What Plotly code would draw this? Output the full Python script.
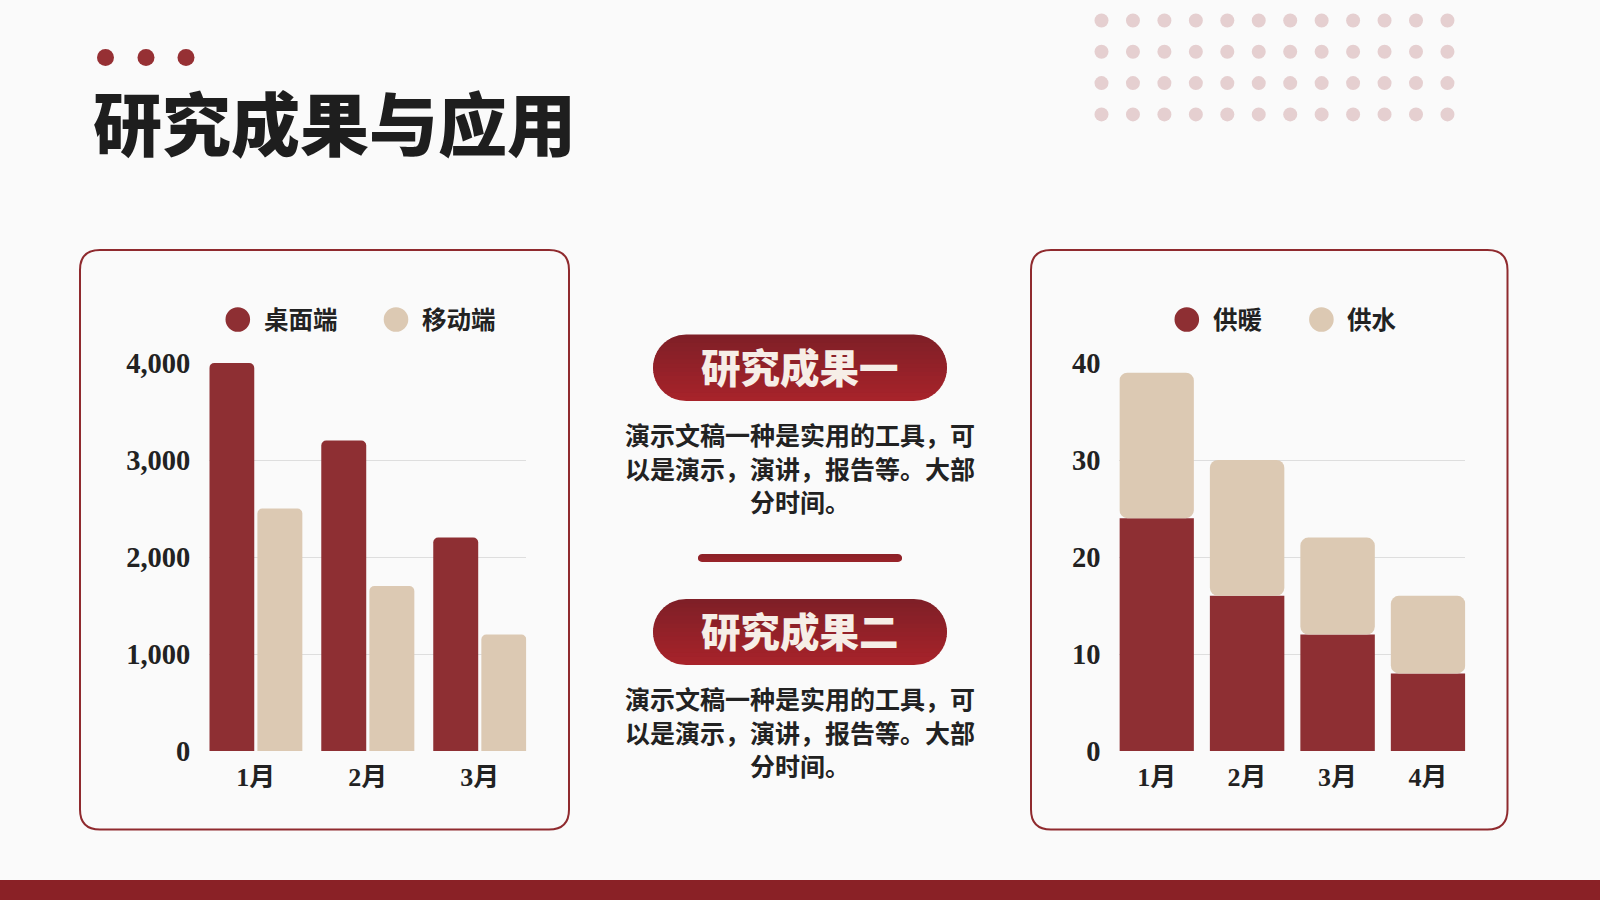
import math
import plotly.graph_objects as go

# ---------------- data ----------------
left_categories = ["1月", "2月", "3月"]
left_series_names = ["桌面端", "移动端"]
desktop_values = [4000, 3200, 2200]
mobile_values = [2500, 1700, 1200]
left_y_ticks = [0, 1000, 2000, 3000, 4000]

right_categories = ["1月", "2月", "3月", "4月"]
right_series_names = ["供暖", "供水"]
heating_values = [24, 16, 12, 8]
water_values = [15, 14, 10, 8]
right_y_ticks = [0, 10, 20, 30, 40]

title_text = "研究成果与应用"
result_titles = ["研究成果一", "研究成果二"]
result_lines = [
    ["演示文稿一种是实用的工具，可", "以是演示，演讲，报告等。大部", "分时间。"],
    ["演示文稿一种是实用的工具，可", "以是演示，演讲，报告等。大部", "分时间。"],
]

# ---------------- style ----------------
W, H = 1600, 900
BG = "#fafafa"
RED = "#8e2f33"
BEIGE = "#dcc9b3"
DARK = "#222222"
BORDER = "#8f2a2e"
CJK = "Noto Sans CJK SC"
NUM = "Liberation Serif, Noto Sans CJK SC"


def px(x):
    return x / W


def py(y):
    return 1 - y / H


def hex_lerp(c1, c2, t):
    a = [int(c1[i:i + 2], 16) for i in (1, 3, 5)]
    b = [int(c2[i:i + 2], 16) for i in (1, 3, 5)]
    return "#" + "".join(f"{round(a[k] + (b[k] - a[k]) * t):02x}" for k in range(3))


fig = go.Figure()

# left grouped bars (explicit offsets because the right chart is stacked)
bw_l = 0.4015
fig.add_trace(go.Bar(x=left_categories, y=desktop_values, name=left_series_names[0],
                     marker=dict(color=RED, cornerradius=5, line=dict(width=0)),
                     offset=-0.4155, width=bw_l, xaxis="x", yaxis="y", showlegend=False))
fig.add_trace(go.Bar(x=left_categories, y=mobile_values, name=left_series_names[1],
                     marker=dict(color=BEIGE, cornerradius=5, line=dict(width=0)),
                     offset=0.4155 - bw_l, width=bw_l, xaxis="x", yaxis="y", showlegend=False))

# right stacked bars
bw_r = 0.823
fig.add_trace(go.Bar(x=right_categories, y=heating_values, name=right_series_names[0],
                     marker=dict(color=RED, cornerradius=0, line=dict(width=0)),
                     offset=-bw_r / 2, width=bw_r, xaxis="x2", yaxis="y2", showlegend=False))
fig.add_trace(go.Bar(x=right_categories, y=water_values, base=heating_values,
                     name=right_series_names[1],
                     marker=dict(color=BEIGE, cornerradius=8, line=dict(width=0)),
                     offset=-bw_r / 2, width=bw_r, xaxis="x2", yaxis="y2", showlegend=False))

shapes = []
annotations = []

# bottom band
shapes.append(dict(type="rect", xref="paper", yref="paper", x0=0, x1=1, y0=py(900), y1=py(880),
                   fillcolor="#8a2126", line=dict(width=0), layer="below"))

# title dots
for cx in (105.5, 146, 186):
    r = 8.5
    shapes.append(dict(type="circle", xref="paper", yref="paper",
                       x0=px(cx - r), x1=px(cx + r), y0=py(57.5 + r), y1=py(57.5 - r),
                       fillcolor="#963034", line=dict(width=0)))

# dotted grid top right
for row in range(4):
    for col in range(12):
        cx = 1101.5 + col * 31.45
        cy = 20.5 + row * 31.3
        r = 7
        shapes.append(dict(type="circle", xref="paper", yref="paper",
                           x0=px(cx - r), x1=px(cx + r), y0=py(cy + r), y1=py(cy - r),
                           fillcolor="#e5cfd0", line=dict(width=0), layer="below"))


def rounded_rect(x0, y0, x1, y1, r):
    p = [f"M{px(x0 + r)},{py(y0)}", f"L{px(x1 - r)},{py(y0)}",
         f"Q{px(x1)},{py(y0)} {px(x1)},{py(y0 + r)}", f"L{px(x1)},{py(y1 - r)}",
         f"Q{px(x1)},{py(y1)} {px(x1 - r)},{py(y1)}", f"L{px(x0 + r)},{py(y1)}",
         f"Q{px(x0)},{py(y1)} {px(x0)},{py(y1 - r)}", f"L{px(x0)},{py(y0 + r)}",
         f"Q{px(x0)},{py(y0)} {px(x0 + r)},{py(y0)}", "Z"]
    return " ".join(p)


for (x0, x1) in ((80, 569), (1031, 1507.5)):
    shapes.append(dict(type="path", xref="paper", yref="paper",
                       path=rounded_rect(x0, 250, x1, 829.5, 20),
                       fillcolor=BG, line=dict(color=BORDER, width=2), layer="below"))


def pill_bands(x0, x1, y0, y1, c_top, c_bot, n=16):
    out = []
    r = (y1 - y0) / 2
    yc = (y0 + y1) / 2
    xl, xr = x0 + r, x1 - r
    for i in range(n):
        ya = y0 + (y1 - y0) * i / n
        yb = min(y1, y0 + (y1 - y0) * (i + 1) / n + 0.8)
        ys = [ya + (yb - ya) * k / 6 for k in range(7)]
        left = [(xl - math.sqrt(max(r * r - (y - yc) ** 2, 0)), y) for y in ys]
        right = [(xr + math.sqrt(max(r * r - (y - yc) ** 2, 0)), y) for y in reversed(ys)]
        pts = left + right
        path = "M" + " L".join(f"{px(x)},{py(y)}" for x, y in pts) + " Z"
        out.append(dict(type="path", xref="paper", yref="paper", path=path,
                        fillcolor=hex_lerp(c_top, c_bot, (i + 0.5) / n), line=dict(width=0)))
    return out


pill_y = [(334.5, 401), (599, 665)]
for (y0, y1), label in zip(pill_y, result_titles):
    shapes += pill_bands(653, 947, y0, y1, "#7e1f27", "#a8232a")
    annotations.append(dict(text=label, x=px(800), y=py((y0 + y1) / 2 - 2.5), xref="paper", yref="paper",
                            showarrow=False, xanchor="center", yanchor="middle",
                            font=dict(family=CJK, size=39.5, color="#f6eee7", weight=900)))

# divider (rounded bar)
shapes += pill_bands(698, 902, 554, 562, "#8a2127", "#9a2329", n=3)

# paragraphs
para_y = [(433.5, 468, 501.3), (698, 731.8, 765.3)]
for lines, ys in zip(result_lines, para_y):
    for line, yv in zip(lines, ys):
        annotations.append(dict(text=line, x=px(800), y=py(yv), xref="paper", yref="paper",
                                showarrow=False, xanchor="center", yanchor="middle",
                                font=dict(family=CJK, size=25, color=DARK, weight=700)))

# title
annotations.append(dict(text=title_text, x=px(91), y=py(121), xref="paper", yref="paper",
                        showarrow=False, xanchor="left", yanchor="middle",
                        font=dict(family=CJK, size=69, color="#1e1e1e", weight=900)))

# legends drawn as circles + labels
legend_specs = [
    (left_series_names, [RED, BEIGE], [237.8, 396.0]),
    (right_series_names, [RED, BEIGE], [1186.8, 1321.4]),
]
for names, cols, xs in legend_specs:
    for nm, col, cx in zip(names, cols, xs):
        r = 12.3
        shapes.append(dict(type="circle", xref="paper", yref="paper",
                           x0=px(cx - r), x1=px(cx + r), y0=py(319.5 + r), y1=py(319.5 - r),
                           fillcolor=col, line=dict(width=0)))
        annotations.append(dict(text=nm, x=px(cx + 24), y=py(318.5), xref="paper", yref="paper",
                                showarrow=False, xanchor="left", yanchor="middle",
                                font=dict(family=CJK, size=24.5, color=DARK, weight=700)))

axis_common = dict(showline=False, zeroline=False, ticks="", fixedrange=True, automargin=False)
fig.update_layout(
    template="none",
    width=W, height=H,
    margin=dict(l=0, r=0, t=0, b=0, pad=0, autoexpand=False),
    paper_bgcolor=BG, plot_bgcolor="rgba(0,0,0,0)",
    barmode="overlay",
    showlegend=False,
    shapes=shapes,
    annotations=annotations,
    xaxis=dict(domain=[px(209.3), px(526.3)], type="category", categoryorder="array",
               categoryarray=left_categories, range=[-0.4155, 2.4155], showgrid=False,
               tickfont=dict(family=NUM, size=26, color=DARK, weight=700), ticklabelstandoff=8,
               anchor="y", **axis_common),
    yaxis=dict(domain=[py(751), py(363)], range=[0, 4000], tickvals=left_y_ticks,
               tickformat=",", showgrid=True, gridcolor="#dedede", gridwidth=1,
               tickfont=dict(family=NUM, size=28.5, color=DARK, weight=700), ticklabelstandoff=18,
               anchor="x", **axis_common),
    xaxis2=dict(domain=[px(1119.4), px(1465.3)], type="category", categoryorder="array",
                categoryarray=right_categories, range=[-0.4115, 3.4115], showgrid=False,
                tickfont=dict(family=NUM, size=26, color=DARK, weight=700), ticklabelstandoff=8,
                anchor="y2", **axis_common),
    yaxis2=dict(domain=[py(751), py(363)], range=[0, 40], tickvals=right_y_ticks,
                showgrid=True, gridcolor="#dedede", gridwidth=1,
                tickfont=dict(family=NUM, size=28.5, color=DARK, weight=700), ticklabelstandoff=18,
                anchor="x2", **axis_common),
)

fig.write_html("out.html", config={"displayModeBar": False},
               post_script="document.body.style.margin='0';document.body.style.overflow='hidden';")
